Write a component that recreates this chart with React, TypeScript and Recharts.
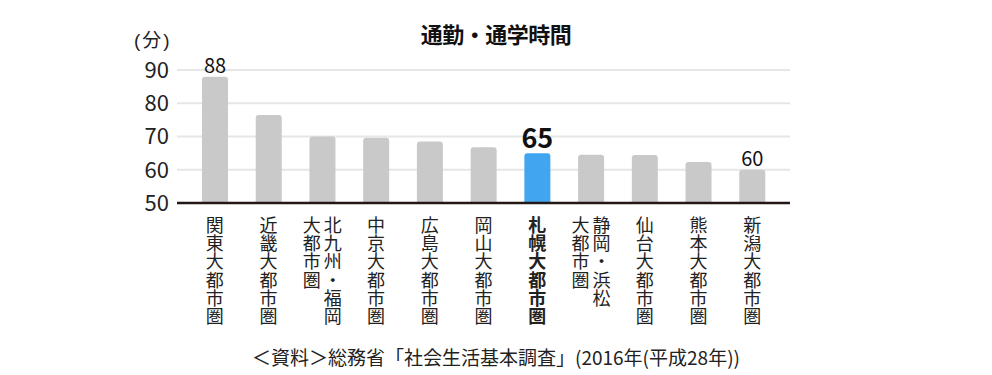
import { BarChart, Bar, XAxis, YAxis, CartesianGrid, Cell, LabelList } from 'recharts'

const regions = [
  '関東大都市圏',
  '近畿大都市圏',
  '北九州・福岡\n大都市圏',
  '中京大都市圏',
  '広島大都市圏',
  '岡山大都市圏',
  '札幌大都市圏',
  '静岡・浜松\n大都市圏',
  '仙台大都市圏',
  '熊本大都市圏',
  '新潟大都市圏',
]
const minutes = [88, 76.5, 70, 69.6, 68.5, 66.8, 65, 64.5, 64.4, 62.3, 60]
const labelled = ['関東大都市圏', '札幌大都市圏', '新潟大都市圏']
const highlight = '札幌大都市圏'
const yTicks = [50, 60, 70, 80, 90]

const data = regions.map((name, i) => ({ name, minutes: minutes[i] }))

const FONT = '"Noto Sans CJK JP", "Noto Sans", sans-serif'

// labels are written top-to-bottom, one glyph per text, columns right-to-left
const RegionTick = ({ x, y, payload }: any) => {
  const cols: string[] = String(payload.value).split('\n')
  const bold = payload.value === highlight
  const gap = 21
  const step = 18.3
  const start = x + ((cols.length - 1) * gap) / 2
  return (
    <g>
      {cols.map((col, c) =>
        Array.from(col).map((ch, i) => (
          <text
            key={c + '-' + i}
            x={start - c * gap}
            y={y + 5 + i * step}
            style={{ writingMode: 'vertical-rl' }}
            fontSize={18}
            fontWeight={bold ? 700 : 400}
            fill="#222"
            fontFamily={FONT}
          >
            {ch}
          </text>
        ))
      )}
    </g>
  )
}

const ValueLabel = (props: any) => {
  const { x, y, width, value, index } = props
  const name = regions[index]
  if (!labelled.includes(name)) return null
  const big = name === highlight
  return (
    <text
      x={x + width / 2}
      y={y - (big ? 5 : 4)}
      textAnchor="middle"
      fontSize={big ? 27 : 20}
      fontWeight={big ? 700 : 400}
      fill="#111"
      fontFamily={FONT}
    >
      {value}
    </text>
  )
}

export default function App() {
  return (
    <div style={{ position: 'absolute', left: 0, top: 0, width: 992, height: 375, background: '#fff', fontFamily: FONT }}>
      <div style={{ position: 'absolute', left: 0, width: 992, top: 18, textAlign: 'center', fontSize: 22, fontWeight: 700, color: '#111', lineHeight: '30px', letterSpacing: -0.5 }}>
        通勤・通学時間
      </div>
      <div style={{ position: 'absolute', left: 134, top: 31, fontSize: 19, color: '#222', lineHeight: '20px', letterSpacing: 2, fontFamily: '"Liberation Sans", "Noto Sans CJK JP", sans-serif' }}>
        (分)
      </div>
      <BarChart
        width={992}
        height={375}
        data={data}
        margin={{ top: 70, right: 202, bottom: 0, left: 100 }}
        barCategoryGap={0}
      >
        <CartesianGrid vertical={false} stroke="#e6e6e6" strokeWidth={2} />
        <XAxis
          dataKey="name"
          interval={0}
          height={172}
          padding={{ left: 11, right: 11 }}
          tickLine={false}
          axisLine={{ stroke: '#231815', strokeWidth: 2.5 }}
          tick={<RegionTick />}
        />
        <YAxis
          width={77}
          domain={[50, 90]}
          ticks={yTicks}
          allowDataOverflow
          axisLine={false}
          tickLine={false}
          tick={{ fontSize: 22, fill: '#222', fontFamily: FONT }}
        />
        <Bar dataKey="minutes" barSize={26} radius={[3, 3, 0, 0]} isAnimationActive={false}>
          {data.map((d) => (
            <Cell key={d.name} fill={d.name === highlight ? '#42a5ef' : '#c9c9c9'} />
          ))}
          <LabelList dataKey="minutes" content={<ValueLabel />} />
        </Bar>
      </BarChart>
      <div style={{ position: 'absolute', left: 0, width: 992, top: 344, textAlign: 'center', fontSize: 19, color: '#222', lineHeight: '26px' }}>
        ＜資料＞総務省「社会生活基本調査」(2016年(平成28年))
      </div>
    </div>
  )
}
